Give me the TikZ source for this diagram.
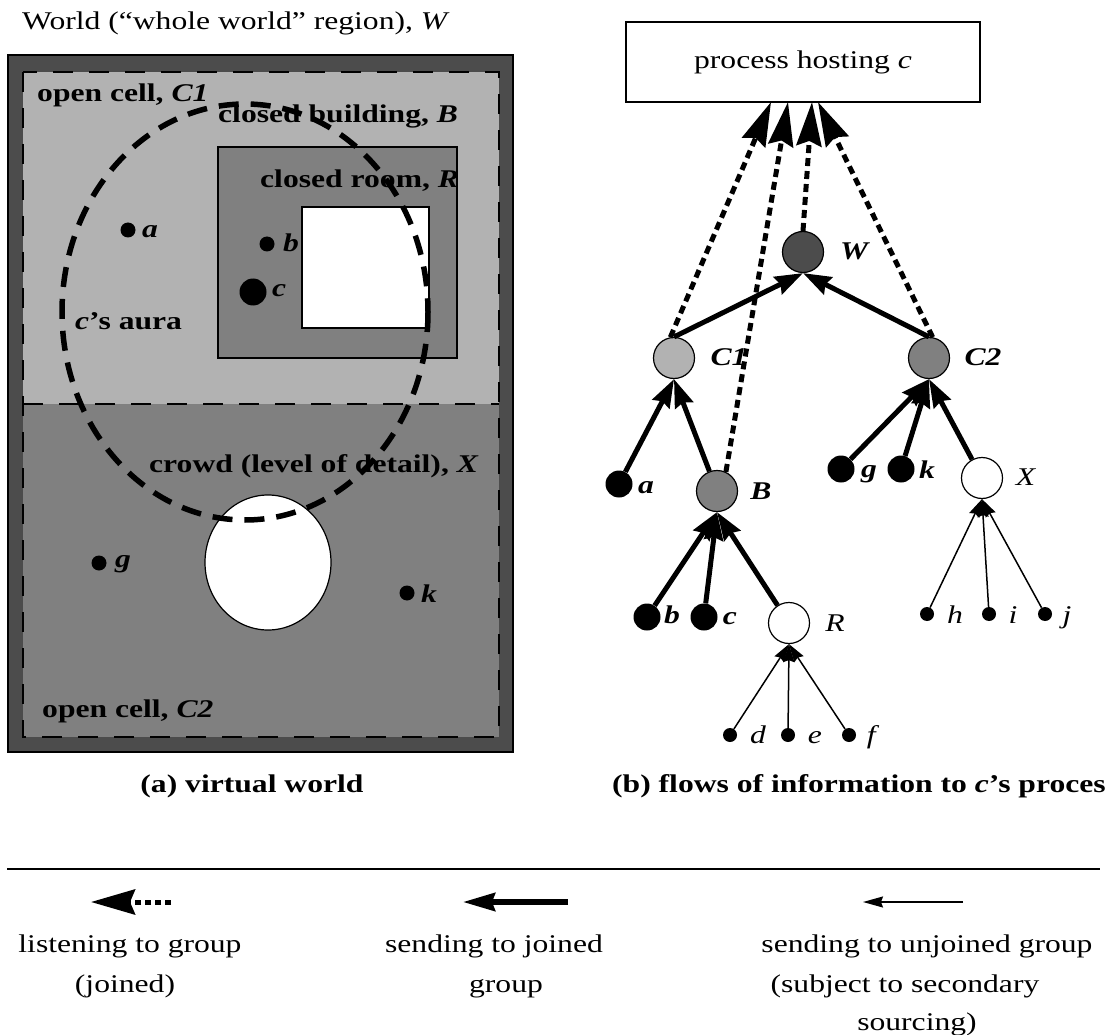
\documentclass[tikz,border=0pt]{standalone}
\usepackage{fontspec}
\setmainfont{Liberation Serif}[FakeStretch=1.24]
\usetikzlibrary{arrows.meta}
\begin{document}
\begin{tikzpicture}[x=1pt,y=-1pt,
  lbl/.style={font=\fontsize{25.5}{30}\selectfont, inner sep=0pt},
  blbl/.style={font=\fontsize{25.5}{30}\selectfont\bfseries, inner sep=0pt},
  grp/.style={circle, draw, line width=1.2pt, minimum size=41pt, inner sep=0pt},
  bigdot/.style={circle, fill=black, minimum size=27pt, inner sep=0pt},
  smalldot/.style={circle, fill=black, minimum size=14pt, inner sep=0pt},
  send/.style={line width=5pt, -{Stealth[length=28pt,width=19pt,inset=3pt]}},
  listen/.style={line width=5pt, dash pattern=on 8pt off 5pt, -{Stealth[length=44pt,width=25pt,inset=5pt]}},
  unjoined/.style={line width=1.5pt, -{Stealth[length=18pt,width=11pt,inset=2pt]}},
  celldash/.style={line width=1.2pt, dash pattern=on 20pt off 16pt},
  aura/.style={line width=5.5pt, dash pattern=on 20pt off 12pt}
]
\useasboundingbox (0,0) rectangle (1117,1035);
\clip (0,0) rectangle (1117,1035);
\fill[white] (0,0) rectangle (1117,1035);

% ---------- (a) virtual world ----------
\node[lbl, anchor=base west] (title) at (22,30) {World (“whole world” region), \textit{W}};
\fill[black!70] (8,55) rectangle (513,752);
\draw[line width=1.2pt] (8,55) rectangle (513,752);
\fill[black!30] (23,72) rectangle (499,404);
\fill[black!50] (23,404) rectangle (499,737);
\draw[celldash] (23,72) rectangle (499,737);
\draw[celldash] (23,404) -- (499,404);
\draw[line width=1.2pt, fill=black!50] (218,147) rectangle (457,358);
\draw[line width=1.2pt, fill=white] (302,207) rectangle (429,328);
\draw[line width=1.2pt, fill=white] (268,562.5) ellipse [x radius=63, y radius=67.5];

\node[blbl, anchor=base west] (lc1) at (37,102) {open cell, \textit{C1}};
\node[blbl, anchor=base west] (lb) at (218,123) {closed building, \textit{B}};
\node[blbl, anchor=base west] (lr) at (260,188) {closed room, \textit{R}};
\node[blbl, anchor=base west] (laura) at (75,330) {\textit{c}’s aura};
\node[blbl, anchor=base west] (lx) at (149,472) {crowd (level of detail), \textit{X}};
\node[blbl, anchor=base west] (lc2) at (42,717) {open cell, \textit{C2}};

\fill (128,230) circle [radius=7.5];
\fill (267,244) circle [radius=7.5];
\fill (253,292) circle [radius=13.5];
\fill (99,563) circle [radius=7.5];
\fill (407,593) circle [radius=7.5];
\node[blbl, anchor=base west] (la) at (142,238) {\textit{a}};
\node[blbl, anchor=base west] (lbb) at (283,252) {\textit{b}};
\node[blbl, anchor=base west] (lcc) at (272,297) {\textit{c}};
\node[blbl, anchor=base west] (lg) at (115,567) {\textit{g}};
\node[blbl, anchor=base west] (lk) at (421,602) {\textit{k}};

\draw[aura] (245,312) ellipse [x radius=183, y radius=208];

\node[blbl, anchor=base] (capa) at (252,792) {(a) virtual world};

% ---------- (b) tree ----------
\node[draw, line width=1.2pt, minimum width=354pt, minimum height=80pt, inner sep=0pt,
      font=\fontsize{25.5}{30}\selectfont] (box) at (803,62) {process hosting \textit{c}};

\node[grp, fill=black!70] (W) at (803,252) {};
\node[grp, fill=black!30] (C1) at (674,358) {};
\node[grp, fill=black!50] (C2) at (929,358) {};
\node[bigdot] (a) at (619,484) {};
\node[grp, fill=black!50] (B) at (717,491) {};
\node[bigdot] (g) at (841,469) {};
\node[bigdot] (k) at (901,469) {};
\node[grp, fill=white] (X) at (982,478) {};
\node[bigdot] (b) at (647,617) {};
\node[bigdot] (c) at (704,617) {};
\node[grp, fill=white] (R) at (789,623) {};
\node[smalldot] (d) at (730,735) {};
\node[smalldot] (e) at (788,735) {};
\node[smalldot] (f) at (849,735) {};
\node[smalldot] (h) at (927,614) {};
\node[smalldot] (i) at (989,614) {};
\node[smalldot] (j) at (1045,614) {};

\node[blbl, anchor=base] (tW) at (855,260) {\textit{W}};
\node[blbl, anchor=base] (tC1) at (729,365) {\textit{C1}};
\node[blbl, anchor=base] (tC2) at (983,365) {\textit{C2}};
\node[blbl, anchor=base] (ta) at (646,493) {\textit{a}};
\node[blbl, anchor=base] (tB) at (761,499) {\textit{B}};
\node[blbl, anchor=base] (tg) at (869,477) {\textit{g}};
\node[blbl, anchor=base] (tk) at (927,478) {\textit{k}};
\node[lbl, anchor=base] (tX) at (1026,485) {\textit{X}};
\node[blbl, anchor=base] (tb) at (672,623) {\textit{b}};
\node[blbl, anchor=base] (tc) at (730,624) {\textit{c}};
\node[lbl, anchor=base] (tR) at (835,631) {\textit{R}};
\node[lbl, anchor=base] (td) at (758,743) {\textit{d}};
\node[lbl, anchor=base] (te) at (815,743) {\textit{e}};
\node[lbl, anchor=base] (tf) at (873,743) {\textit{f}};
\node[lbl, anchor=base] (th) at (955,623) {\textit{h}};
\node[lbl, anchor=base] (ti) at (1013,623) {\textit{i}};
\node[lbl, anchor=base] (tj) at (1067,623) {\textit{j}};

\coordinate (t1) at (771,102);
\coordinate (t2) at (788,102);
\coordinate (t3) at (812,102);
\coordinate (t4) at (818,102);
\draw[listen] (C1.100) -- (t1);
\draw[listen] (B.65) -- (t2);
\draw[listen] (W.north) -- (t3);
\draw[listen] (C2.80) -- (t4);

\draw[send] (C1.north) -- (W.south);
\draw[send] (C2.north) -- (W.south);
\draw[send] (a) -- (C1.south);
\draw[send] (B) -- (C1.south);
\draw[send] (g) -- (C2.south);
\draw[send] (k) -- (C2.south);
\draw[send] (X) -- (C2.south);
\draw[send] (b) -- (B.south);
\draw[send] (c) -- (B.south);
\draw[send] (R) -- (B.south);
\draw[unjoined] (d) -- (R.south);
\draw[unjoined] (e) -- (R.south);
\draw[unjoined] (f) -- (R.south);
\draw[unjoined] (h) -- (X.south);
\draw[unjoined] (i) -- (X.south);
\draw[unjoined] (j) -- (X.south);

\node[blbl, anchor=base west] (capb) at (612,792) {(b) flows of information to \textit{c}’s proces};

% ---------- legend ----------
\coordinate (rl) at (7,869);
\coordinate (rr) at (1100,869);
\draw[line width=1.7pt] (rl) -- (rr);
\coordinate (l1s) at (171,902);
\coordinate (l1e) at (91,902);
\coordinate (l2s) at (568,902);
\coordinate (l2e) at (463,902);
\coordinate (l3s) at (963,902);
\coordinate (l3e) at (863,902);
\draw[line width=5pt, dash pattern=on 6pt off 4pt, -{Stealth[length=44pt,width=25pt,inset=5pt]}] (l1s) -- (l1e);
\draw[line width=5.5pt, -{Stealth[length=32pt,width=18pt,inset=3pt]}] (l2s) -- (l2e);
\draw[line width=1.5pt, -{Stealth[length=20pt,width=11pt,inset=2pt]}] (l3s) -- (l3e);

\node[lbl, anchor=base] (g1a) at (130,952) {listening to group};
\node[lbl, anchor=base] (g1b) at (125,992) {(joined)};
\node[lbl, anchor=base] (g2a) at (494,952) {sending to joined};
\node[lbl, anchor=base] (g2b) at (506,992) {group};
\node[lbl, anchor=base] (g3a) at (927,952) {sending to unjoined group};
\node[lbl, anchor=base] (g3b) at (905,992) {(subject to secondary};
\node[lbl, anchor=base] (g3c) at (917,1030) {sourcing)};
\end{tikzpicture}
\end{document}
